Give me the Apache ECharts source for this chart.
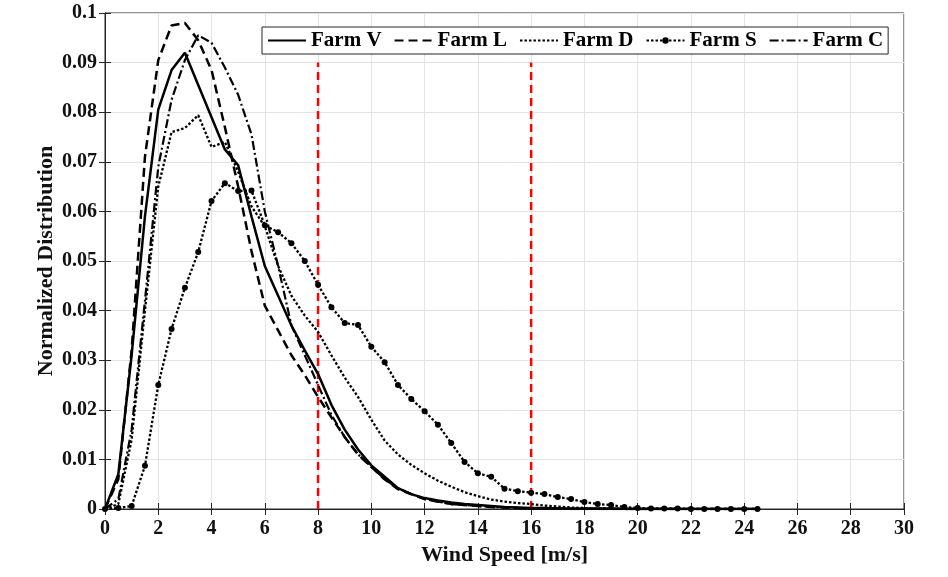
<!DOCTYPE html>
<html>
<head>
<meta charset="utf-8">
<script src="https://cdn.jsdelivr.net/npm/echarts@6/dist/echarts.min.js"></script>
<style>
html,body{margin:0;padding:0;background:#fff;}
#c{width:948px;height:577px;}
</style>
</head>
<body>
<div id="c"></div>
<script>
const speeds = [0,0.5,1,1.5,2,2.5,3,3.5,4,4.5,5,5.5,6,6.5,7,7.5,8,8.5,9,9.5,10,10.5,11,11.5,12,12.5,13,13.5,14,14.5,15,15.5,16,16.5,17,17.5,18,18.5,19,19.5,20,20.5,21,21.5,22,22.5,23,23.5,24,24.5];

const farmV = [0,0.007,0.031,0.059,0.0805,0.0885,0.092,0.0855,0.079,0.0725,0.0693,0.059,0.049,0.043,0.037,0.032,0.0272,0.021,0.016,0.012,0.0088,0.0065,0.0042,0.003,0.0022,0.0017,0.0013,0.001,0.0008,0.0006,0.0004,0.0003,0.0002,0.0002,0.0001,0.0001,0.0001,0.0001,0.0001,0,0,0,0,0,0,0,0,0,0,0];
const farmL = [0,0.006,0.032,0.071,0.0905,0.0975,0.098,0.0945,0.0885,0.077,0.065,0.052,0.041,0.036,0.031,0.027,0.0226,0.0185,0.0145,0.011,0.0085,0.006,0.004,0.003,0.002,0.0015,0.001,0.0008,0.0006,0.0004,0.0003,0.0002,0.0001,0.0001,0.0001,0,0,0,0,0,0,0,0,0,0,0,0,0,0,0];
const farmD = [0,0.001,0.014,0.040,0.065,0.076,0.0768,0.0794,0.073,0.074,0.068,0.061,0.057,0.049,0.043,0.039,0.0357,0.031,0.0265,0.0226,0.018,0.0138,0.011,0.0089,0.0072,0.0057,0.0045,0.0034,0.0026,0.0019,0.0015,0.0012,0.001,0.0007,0.0005,0.0003,0.0002,0.0001,0.0001,0,0,0,0,0,0,0,0,0,0,0];
const farmS = [0,0.0002,0.0006,0.0087,0.025,0.0363,0.0446,0.0518,0.0621,0.0657,0.0641,0.0642,0.0572,0.0558,0.0536,0.050,0.0452,0.0407,0.0375,0.0371,0.0327,0.0296,0.025,0.0222,0.0197,0.017,0.0133,0.0095,0.0072,0.0065,0.0041,0.0036,0.0033,0.003,0.0024,0.002,0.0014,0.001,0.0008,0.0004,0.0002,0.0001,0.0001,0.0001,0,0,0,0,0,0];
const farmC = [0,0.002,0.016,0.042,0.069,0.0825,0.0905,0.0955,0.094,0.089,0.0835,0.0755,0.060,0.049,0.037,0.031,0.025,0.019,0.0145,0.011,0.0085,0.006,0.0042,0.003,0.002,0.0015,0.001,0.0008,0.0006,0.0004,0.0003,0.0002,0.0001,0.0001,0.0001,0,0,0,0,0,0,0,0,0,0,0,0,0,0,0];

const refSpeeds = [8, 16];
const refTop = 0.09;

const xTicks = [0,2,4,6,8,10,12,14,16,18,20,22,24,26,28,30];
const yTickLabels = ['0','0.01','0.02','0.03','0.04','0.05','0.06','0.07','0.08','0.09','0.1'];

const names = ['Farm V','Farm L','Farm D','Farm S','Farm C'];

function pairs(vals){ return speeds.map((s,i)=>[s, vals[i]]); }

const FONT = '"Liberation Serif", "Times New Roman", serif';
const INK = '#111';

const farmSeries = [
  {name:names[0], data:pairs(farmV), lineStyle:{type:'solid', width:2.5}, symbol:'none'},
  {name:names[1], data:pairs(farmL), lineStyle:{type:[9,5], width:2.5}, symbol:'none'},
  {name:names[2], data:pairs(farmD), lineStyle:{type:[2.5,2], width:2.3}, symbol:'none'},
  {name:names[3], data:pairs(farmS), lineStyle:{type:[2.5,2], width:2.3}, symbol:'circle', symbolSize:6, showSymbol:true},
  {name:names[4], data:pairs(farmC), lineStyle:{type:[9,3,2,3], width:2.2}, symbol:'none'}
].map(s => Object.assign({type:'line', color:'#000', itemStyle:{color:'#000'}, z:3}, s, {lineStyle:Object.assign({color:'#000'}, s.lineStyle)}));

const refSeries = refSpeeds.map(x => ({
  type:'line', name:'ref'+x, data:[[x,0],[x,refTop]], symbol:'none',
  lineStyle:{color:'#ff0000', width:2.5, type:[8,5]}, z:2, silent:true
}));

const axisCommon = {
  type:'value',
  axisLine:{show:true, lineStyle:{color:'#262626', width:1}},
  axisTick:{show:true, inside:true, length:6, lineStyle:{color:'#262626'}},
  splitLine:{show:true, lineStyle:{color:'#e3e3e3', width:1}},
  axisLabel:{fontFamily:FONT, fontWeight:'bold', fontSize:20, color:INK},
  nameTextStyle:{fontFamily:FONT, fontWeight:'bold', fontSize:22, color:INK}
};

const hidden = {color:'rgba(0,0,0,0)', opacity:0, borderWidth:0};
const legendData = names.map(n => n === 'Farm S' ? {name:n} : {name:n, itemStyle:hidden});

const chart = echarts.init(document.getElementById('c'));
chart.setOption({
  animation:false,
  backgroundColor:'#fff',
  grid:{left:105, right:44, top:13, bottom:68, show:true, borderColor:'#262626', borderWidth:1, backgroundColor:'transparent'},
  legend:{
    data:legendData, left:262, top:27, orient:'horizontal',
    itemWidth:38, itemHeight:8, itemGap:12, padding:[3,5],
    borderColor:'#262626', borderWidth:1, backgroundColor:'#fff',
    textStyle:{fontFamily:FONT, fontWeight:'bold', fontSize:21, color:'#000'}
  },
  xAxis:[
    Object.assign({}, axisCommon, {
      min:xTicks[0], max:xTicks[xTicks.length-1], interval:2,
      name:'Wind Speed [m/s]', nameLocation:'middle', nameGap:33,
      axisLabel:Object.assign({}, axisCommon.axisLabel, {margin:10})
    }),
    Object.assign({}, axisCommon, {
      position:'top', min:0, max:30, interval:2,
      axisLabel:{show:false}, splitLine:{show:false}
    })
  ],
  yAxis:[
    Object.assign({}, axisCommon, {
      min:0, max:0.1, interval:0.01,
      name:'Normalized Distribution', nameLocation:'middle', nameGap:48, nameMoveOverlap:false,
      axisLabel:Object.assign({}, axisCommon.axisLabel, {margin:8, formatter:v => yTickLabels[Math.round(v*100)]})
    }),
    Object.assign({}, axisCommon, {
      position:'right', min:0, max:0.1, interval:0.01,
      axisLabel:{show:false}, splitLine:{show:false}
    })
  ],
  series: refSeries.concat(farmSeries)
});
</script>
</body>
</html>
